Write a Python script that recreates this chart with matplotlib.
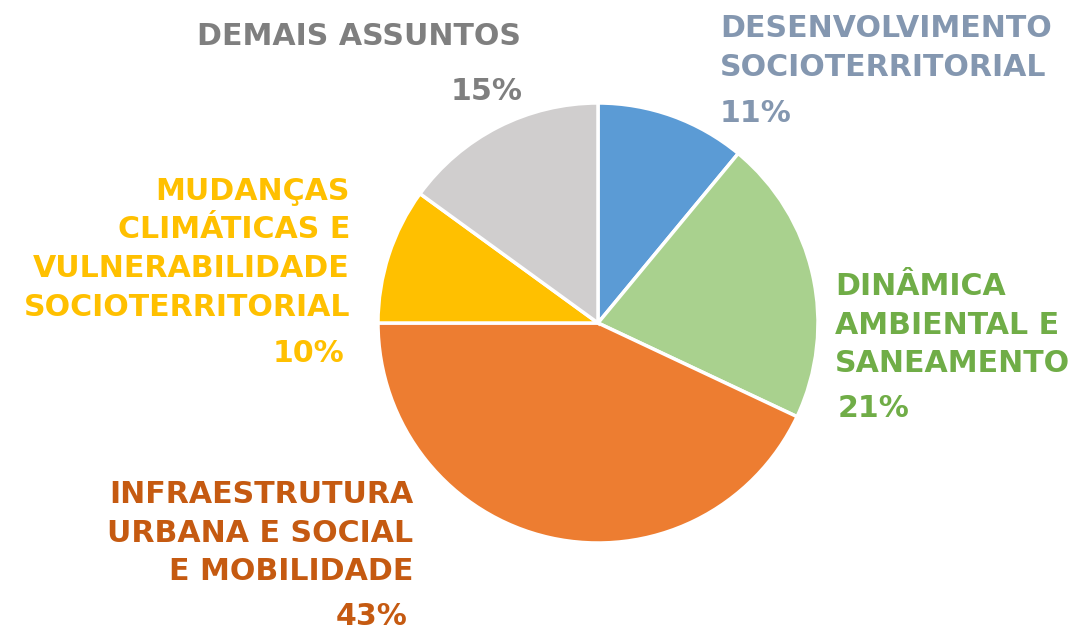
import matplotlib.pyplot as plt

# share of projects by theme
values = [11, 21, 43, 10, 15]
names = [
    ["DESENVOLVIMENTO", "SOCIOTERRITORIAL"],
    ["DINÂMICA", "AMBIENTAL E", "SANEAMENTO"],
    ["INFRAESTRUTURA", "URBANA E SOCIAL", "E MOBILIDADE"],
    ["MUDANÇAS", "CLIMÁTICAS E", "VULNERABILIDADE", "SOCIOTERRITORIAL"],
    ["DEMAIS ASSUNTOS"],
]
wedge_colors = ["#5B9BD5", "#A9D18E", "#ED7D31", "#FFC000", "#D0CECE"]
text_colors = ["#8497B0", "#70AD47", "#C55A11", "#FFC000", "#7F7F7F"]

W, H = 1068, 629
fig = plt.figure(figsize=(W / 100, H / 100), dpi=100)
ax = fig.add_axes([0, 0, 1, 1])

ax.pie(values, colors=wedge_colors, startangle=90, counterclock=False,
       center=(598, H - 323), radius=220,
       wedgeprops=dict(edgecolor="white", linewidth=2.5))

# pie() resets the limits, so work in pixel units afterwards
ax.set_xlim(0, W)
ax.set_ylim(0, H)
ax.set_aspect("equal")
ax.axis("off")

# label blocks: anchor x, first baseline (px from top), alignment, pct x, pct baseline
layout = [
    (720, 37, "left", 720, 122),
    (835, 295, "left", 838, 417),
    (413, 503, "right", 408, 625),
    (350, 200, "right", 344, 362),
    (197, 45, "left", 523, 100),
]
pitch = 38.5
fs = 21.6

for i, (x, y0, ha, px, py) in enumerate(layout):
    for j, line in enumerate(names[i]):
        ax.text(x, H - (y0 + j * pitch), line, ha=ha, va="baseline",
                fontsize=fs, fontweight="bold", color=text_colors[i])
    pha = "right" if ha == "right" or i == 4 else "left"
    ax.text(px, H - py, f"{values[i]}%", ha=pha, va="baseline",
            fontsize=fs, fontweight="bold", color=text_colors[i])

fig.savefig("out.png", dpi=100)
